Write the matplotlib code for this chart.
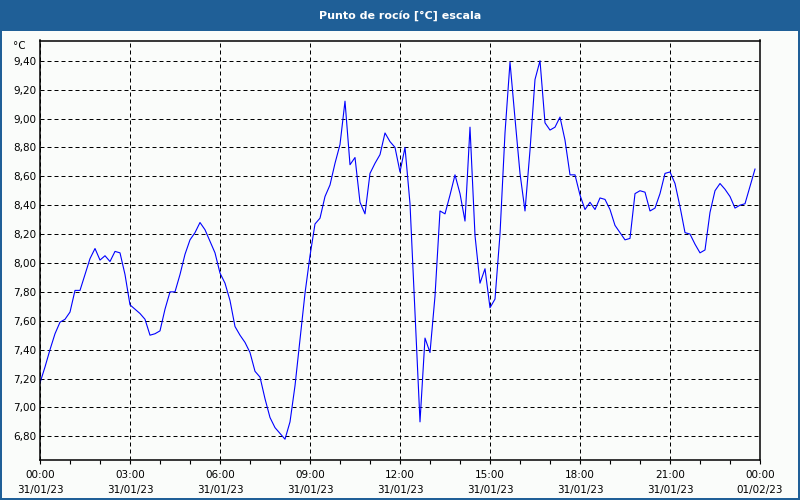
import matplotlib
matplotlib.use("Agg")
import matplotlib.pyplot as plt
import matplotlib.dates as mdates
import matplotlib.ticker as mticker
from matplotlib.patches import Rectangle
import pandas as pd

# dew point readings every 10 minutes, 31/01/23
start = "2023-01-31 00:00"
end = "2023-02-01 00:00"
dew_point = [
    7.17, 7.28, 7.40, 7.51, 7.59, 7.61, 7.66, 7.81, 7.81, 7.92, 8.03, 8.10,
    8.02, 8.05, 8.01, 8.08, 8.07, 7.92, 7.71, 7.68, 7.65, 7.61, 7.50, 7.51,
    7.53, 7.68, 7.80, 7.80, 7.92, 8.06, 8.16, 8.21, 8.28, 8.23, 8.15, 8.07,
    7.93, 7.86, 7.74, 7.56, 7.50, 7.45, 7.38, 7.25, 7.21, 7.06, 6.93, 6.86,
    6.82, 6.78, 6.90, 7.15, 7.47, 7.79, 8.05, 8.27, 8.31, 8.46, 8.54, 8.69,
    8.82, 9.12, 8.68, 8.73, 8.42, 8.34, 8.62, 8.69, 8.75, 8.90, 8.84, 8.80,
    8.63, 8.80, 8.41, 7.66, 6.90, 7.48, 7.38, 7.77, 8.36, 8.34, 8.47, 8.61,
    8.48, 8.29, 8.94, 8.19, 7.86, 7.96, 7.69, 7.75, 8.20, 8.90, 9.39, 9.00,
    8.62, 8.36, 8.78, 9.27, 9.40, 8.97, 8.92, 8.94, 9.01, 8.85, 8.61, 8.61,
    8.47, 8.37, 8.42, 8.37, 8.45, 8.44, 8.37, 8.26, 8.21, 8.16, 8.17, 8.48,
    8.50, 8.49, 8.36, 8.38, 8.48, 8.62, 8.63, 8.55, 8.39, 8.21, 8.20, 8.13,
    8.07, 8.09, 8.35, 8.50, 8.55, 8.51, 8.46, 8.38, 8.40, 8.41, 8.53, 8.65,
]
y_ticks = [6.8, 7.0, 7.2, 7.4, 7.6, 7.8, 8.0, 8.2, 8.4, 8.6, 8.8, 9.0, 9.2, 9.4]
title = "Punto de rocío [°C] escala"
unit = "°C"

frame_blue = "#1f5f97"
paper = "#fafcfa"

plt.rcParams["font.family"] = ["DejaVu Sans"]
plt.rcParams["font.size"] = 7.5

times = pd.date_range(start, periods=len(dew_point), freq="10min")

fig = plt.figure(figsize=(8, 5), dpi=100, facecolor=frame_blue)
fig.add_artist(Rectangle((2 / 800, 2 / 500), 796 / 800, 467 / 500,
                         transform=fig.transFigure, facecolor=paper,
                         edgecolor="none", zorder=-1))
fig.text(0.5, 1 - 15.5 / 500, title, ha="center", va="center",
         color="white", fontweight="bold", fontsize=8)
fig.text(26 / 800, 1 - 46 / 500, unit, ha="right", va="center")

ax = fig.add_axes([40 / 800, 40 / 500, 720 / 800, 419.5 / 500])
ax.set_facecolor(paper)
ax.plot(times, dew_point, color="#0000ff", linewidth=0.8)

ax.set_xlim(pd.Timestamp(start), pd.Timestamp(end))
ax.set_ylim(6.636, 9.54)
ax.set_yticks(y_ticks)
ax.yaxis.set_major_formatter(
    mticker.FuncFormatter(lambda v, _: f"{v:.2f}".replace(".", ",")))
ax.xaxis.set_major_locator(mdates.HourLocator(byhour=range(0, 24, 3)))
ax.xaxis.set_minor_locator(mdates.HourLocator())
ax.xaxis.set_major_formatter(mdates.DateFormatter("%H:%M\n%d/%m/%y"))

ax.tick_params(axis="y", length=0, pad=2.5)
ax.tick_params(axis="x", which="both", length=3, width=0.8, pad=4)
plt.setp(ax.get_xticklabels(), linespacing=1.7)

ax.grid(True, color="black", linestyle=(0, (4, 3)), linewidth=0.72)
for side in ax.spines.values():
    side.set_linewidth(1.1)

fig.savefig("out.png", dpi=100, facecolor=frame_blue)
